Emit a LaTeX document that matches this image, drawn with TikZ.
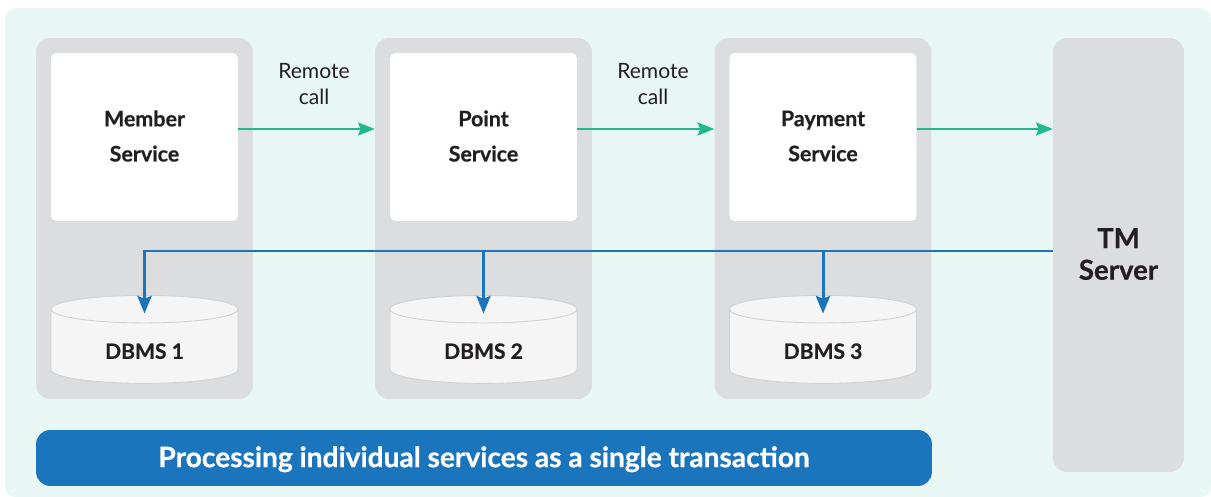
\documentclass[tikz,border=0pt]{standalone}
\usepackage{fontspec}
\setmainfont{Lato}[BoldFeatures={FakeBold=0.6}]
\usepackage{xcolor}
\usetikzlibrary{arrows.meta, shapes.geometric}
\definecolor{bgmint}{HTML}{E8F7F3}
\definecolor{panelgray}{HTML}{DCDDDF}
\definecolor{callgreen}{HTML}{20B98D}
\definecolor{tmblue}{HTML}{1A75BD}
\definecolor{inkblack}{HTML}{231F20}
\newcommand{\dbmstext}[1]{\smash{\raisebox{-7pt}{#1}}}
\tikzset{
	panel/.style={fill=panelgray, rounded corners=8pt, inner sep=0, minimum width=4.34cm, minimum height=7.22cm},
	service/.style={fill=white, rounded corners=3pt, inner sep=0, minimum width=3.74cm, minimum height=3.36cm, align=center, text depth=1.2pt, font=\fontsize{12.2}{20}\selectfont\bfseries, text=inkblack},
	dbms/.style={cylinder, shape border rotate=90, aspect=0.35, draw=black!18, line width=0.5pt, fill=black!4, cylinder end fill=white, cylinder body fill=black!4, cylinder uses custom fill, inner sep=0, minimum width=3.74cm, minimum height=1.76cm, font=\fontsize{12}{14}\selectfont\bfseries, text=inkblack},
	callarrow/.style={-{Stealth[length=9.5pt, width=7.5pt, inset=1.5pt]}, callgreen, line width=0.7pt},
	tmarrow/.style={-{Stealth[length=10pt, width=8pt, inset=1.5pt]}, tmblue, line width=1.7pt, shorten >=-2.5pt},
}

\begin{document}
\begin{tikzpicture}[x=0.02cm, y=-0.02cm]
	\useasboundingbox (0,0) rectangle (1211,497);
	\node[fill=bgmint, rounded corners=6pt, inner sep=0, minimum width=24.12cm, minimum height=9.78cm] (bg) at (608,252.5) {};

	\node[panel] (memberpanel) at (144.5,218.5) {};
	\node[panel] (pointpanel) at (483.5,218.5) {};
	\node[panel] (paymentpanel) at (823,218.5) {};
	\node[panel, minimum width=2.62cm, minimum height=8.68cm] (tmserver) at (1118.5,255) {};
	\node[font=\fontsize{15.7}{18}\selectfont\bfseries, text=inkblack, text depth=1.2pt, align=center] (tmlabel) at (1118.5,255) {TM\\Server};

	\node[service] (member) at (144.5,137) {Member\\Service};
	\node[service] (point) at (483.5,137) {Point\\Service};
	\node[service] (payment) at (823,137) {Payment\\Service};

	\node[dbms] (dbmsone) at (144.5,346.5) {\dbmstext{DBMS 1}};
	\node[dbms] (dbmstwo) at (483.5,346.5) {\dbmstext{DBMS 2}};
	\node[dbms] (dbmsthree) at (823,346.5) {\dbmstext{DBMS 3}};

	\node[fill=tmblue, rounded corners=8pt, inner sep=0, minimum width=17.92cm, minimum height=1.12cm, text=white, text depth=1.5pt, font=\fontsize{16}{18}\selectfont\bfseries] (banner) at (484,458) {Processing individual services as a single transaction};

	% remote calls
	\coordinate (callrow) at (0,129);
	\coordinate (tmrow) at (0,251);
	\draw[callarrow] (member.east |- callrow) -- (pointpanel.west |- callrow);
	\draw[callarrow] (point.east |- callrow) -- (paymentpanel.west |- callrow);
	\draw[callarrow] (payment.east |- callrow) -- (tmserver.west |- callrow);
	\node[font=\fontsize{12}{15.3}\selectfont, text=inkblack, align=center] (callone) at (314,84) {Remote\\call};
	\node[font=\fontsize{12}{15.3}\selectfont, text=inkblack, align=center] (calltwo) at (653,84) {Remote\\call};

	% coordinator lines
	\draw[tmarrow] (tmserver.west |- tmrow) -- (dbmsone.top |- tmrow) -- (dbmsone.top |- dbmsone.before top);
	\draw[tmarrow] (dbmstwo.top |- tmrow) -- (dbmstwo.top |- dbmstwo.before top);
	\draw[tmarrow] (dbmsthree.top |- tmrow) -- (dbmsthree.top |- dbmsthree.before top);
\end{tikzpicture}
\end{document}
